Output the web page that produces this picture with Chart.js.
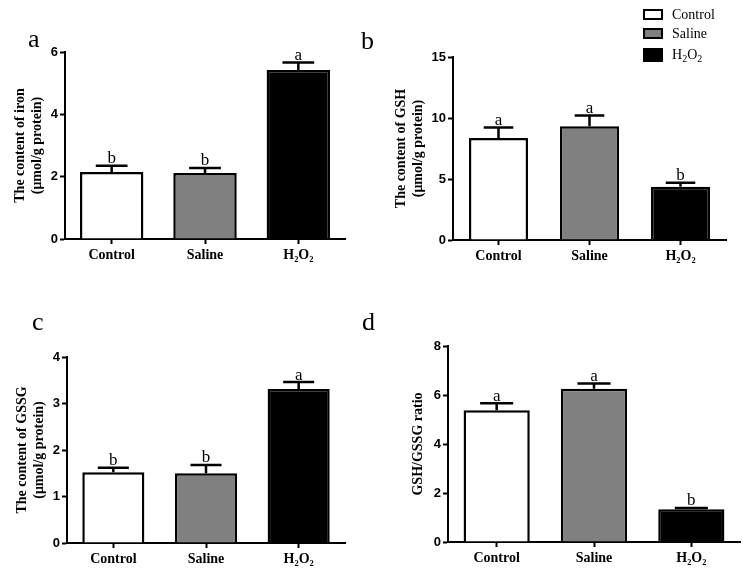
<!DOCTYPE html>
<html>
<head>
<meta charset="utf-8">
<script src="https://cdn.jsdelivr.net/npm/chart.js@4.4.0/dist/chart.umd.min.js"></script>
<style>
  body { margin: 0; background: #fff; }
  #wrap { position: relative; width: 753px; height: 579px; background: #fff; font-family: 'Liberation Serif', 'Times New Roman', serif; color: #000; }
  canvas { position: absolute; }
  .tag { position: absolute; font-size: 26px; line-height: 1; }
  .leg { position: absolute; left: 643px; font-size: 14px; line-height: 16px; height: 16px; white-space: nowrap; }
  .leg i { display: inline-block; width: 16px; height: 7px; border: 2px solid #000; vertical-align: middle; margin-right: 9px; position: relative; top: -1px; }
  .leg sub { font-size: 10px; vertical-align: -3px; line-height: 0; }
</style>
</head>
<body>
<div id="wrap">
  <canvas id="chartA" width="370" height="280" style="left:0;top:0"></canvas>
  <canvas id="chartB" width="383" height="280" style="left:370px;top:0"></canvas>
  <canvas id="chartC" width="370" height="299" style="left:0;top:280px"></canvas>
  <canvas id="chartD" width="383" height="299" style="left:370px;top:280px"></canvas>

  <div class="tag" style="left:28px;top:26px">a</div>
  <div class="tag" style="left:361px;top:28px">b</div>
  <div class="tag" style="left:32px;top:309px">c</div>
  <div class="tag" style="left:362px;top:309px">d</div>

  <div class="leg" style="top:7px"><i style="background:#fff"></i>Control</div>
  <div class="leg" style="top:26px"><i style="background:#808080"></i>Saline</div>
  <div class="leg" style="top:47px"><i style="background:#000;height:10px"></i>H<sub>2</sub>O<sub>2</sub></div>
</div>

<script>
const groups = ['Control', 'Saline', 'H\u2082O\u2082'];
const barColors = ['#ffffff', '#808080', '#000000'];

// panel a - iron
const ironMean = [2.15, 2.12, 5.42];
const ironErr = [0.20, 0.16, 0.24];
const ironLetters = ['b', 'b', 'a'];

// panel b - GSH
const gshMean = [8.37, 9.33, 4.36];
const gshErr = [0.85, 0.87, 0.33];
const gshLetters = ['a', 'a', 'b'];

// panel c - GSSG
const gssgMean = [1.52, 1.50, 3.31];
const gssgErr = [0.10, 0.18, 0.15];
const gssgLetters = ['b', 'b', 'a'];

// panel d - GSH/GSSG ratio
const ratioMean = [5.38, 6.26, 1.34];
const ratioErr = [0.28, 0.21, 0.05];
const ratioLetters = ['a', 'a', 'b'];

const serif = "'Liberation Serif', 'Times New Roman', serif";
const sans = "'Liberation Sans', Arial, sans-serif";

// draws the upper error bar and the significance letter over each bar
const errorBars = {
    id: 'errorBars',
    afterDatasetsDraw(chart) {
        const ctx = chart.ctx;
        const y = chart.scales.y;
        const ds = chart.data.datasets[0];
        const meta = chart.getDatasetMeta(0);
        ctx.save();
        ctx.strokeStyle = '#000';
        ctx.fillStyle = '#000';
        ctx.lineWidth = 2.5;
        ctx.font = '17px ' + serif;
        ctx.textAlign = 'center';
        ctx.textBaseline = 'alphabetic';
        meta.data.forEach((bar, i) => {
            const top = y.getPixelForValue(ds.data[i]);
            const end = y.getPixelForValue(ds.data[i] + ds.errors[i]);
            const half = bar.width / 4;
            ctx.beginPath();
            ctx.moveTo(bar.x, top);
            ctx.lineTo(bar.x, end);
            ctx.moveTo(bar.x - half, end);
            ctx.lineTo(bar.x + half, end);
            ctx.stroke();
            ctx.fillText(ds.letters[i], bar.x, end - 2.5);
        });
        ctx.restore();
    }
};

function makeChart(id, mean, err, letters, title, yMax, yStep, box) {
    const ctx = document.getElementById(id).getContext('2d');
    return new Chart(ctx, {
        type: 'bar',
        data: {
            labels: groups,
            datasets: [{
                data: mean,
                errors: err,
                letters: letters,
                backgroundColor: barColors,
                borderColor: '#000',
                borderWidth: 2.5,
                barPercentage: box.bar,
                categoryPercentage: 1
            }]
        },
        options: {
            responsive: false,
            animation: false,
            devicePixelRatio: 1,
            events: [],
            layout: { padding: { left: 0, top: box.top, right: box.right, bottom: 0 } },
            plugins: { legend: { display: false }, tooltip: { enabled: false } },
            scales: {
                x: {
                    offset: true,
                    afterFit: s => { s.height = box.xh; },
                    border: { display: true, color: '#000', width: 2 },
                    grid: { offset: false, drawOnChartArea: false, drawTicks: true, tickLength: 5, tickWidth: 2, color: '#000' },
                    ticks: { color: '#000', padding: 3, font: { family: serif, size: 14, weight: 'bold' } }
                },
                y: {
                    min: 0,
                    max: yMax,
                    afterFit: s => { s.width = box.left; },
                    border: { display: true, color: '#000', width: 2 },
                    grid: { drawOnChartArea: false, drawTicks: true, tickLength: 5, tickWidth: 2, color: '#000' },
                    ticks: { stepSize: yStep, color: '#000', padding: 2, font: { family: sans, size: 13, weight: 'bold' } },
                    title: {
                        display: true,
                        text: title,
                        color: '#000',
                        padding: { top: box.tp, bottom: 0 },
                        font: { family: serif, size: 14, weight: 'bold', lineHeight: 1.2 }
                    }
                }
            }
        },
        plugins: [errorBars]
    });
}

window.onload = function () {
    makeChart('chartA', ironMean, ironErr, ironLetters,
        ['The content of iron', '(\u03bcmol/g protein)'], 6, 2,
        { left: 65, top: 52, right: 25, xh: 41, tp: 12, bar: 0.68 });
    makeChart('chartB', gshMean, gshErr, gshLetters,
        ['The content of GSH', '(\u03bcmol/g protein)'], 15, 5,
        { left: 83, top: 57, right: 27, xh: 40, tp: 23, bar: 0.65 });
    makeChart('chartC', gssgMean, gssgErr, gssgLetters,
        ['The content of GSSG', '(\u03bcmol/g protein)'], 4, 1,
        { left: 67, top: 77, right: 25, xh: 36, tp: 14, bar: 0.67 });
    makeChart('chartD', ratioMean, ratioErr, ratioLetters,
        'GSH/GSSG ratio', 8, 2,
        { left: 78, top: 66, right: 13, xh: 37, tp: 40, bar: 0.68 });
};
</script>
</body>
</html>
